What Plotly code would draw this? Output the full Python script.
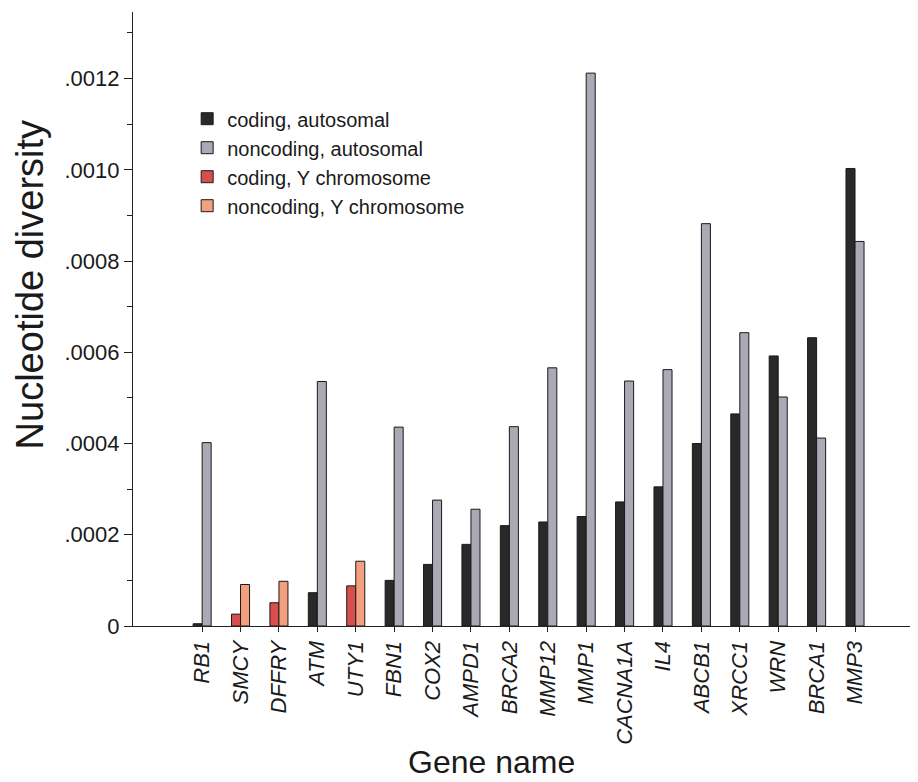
import plotly.graph_objects as go

genes = ["RB1", "SMCY", "DFFRY", "ATM", "UTY1", "FBN1", "COX2", "AMPD1", "BRCA2",
         "MMP12", "MMP1", "CACNA1A", "IL4", "ABCB1", "XRCC1", "WRN", "BRCA1", "MMP3"]

coding_autosomal = [0.000005, None, None, 0.000073, None, 0.000100, 0.000135, 0.000179, 0.000220,
                    0.000228, 0.000240, 0.000272, 0.000305, 0.000400, 0.000465, 0.000592, 0.000632, 0.001003]
noncoding_autosomal = [0.000402, None, None, 0.000536, None, 0.000436, 0.000276, 0.000256, 0.000437,
                       0.000566, 0.001212, 0.000537, 0.000562, 0.000882, 0.000643, 0.000502, 0.000412, 0.000843]
coding_y = [None, 0.000026, 0.000051, None, 0.000088, None, None, None, None,
            None, None, None, None, None, None, None, None, None]
noncoding_y = [None, 0.000091, 0.000098, None, 0.000142, None, None, None, None,
               None, None, None, None, None, None, None, None, None]

y_tickvals = [0, 0.0002, 0.0004, 0.0006, 0.0008, 0.0010, 0.0012]
y_ticktext = ["0", ".0002", ".0004", ".0006", ".0008", ".0010", ".0012"]

series = [
    ("coding, autosomal", coding_autosomal, "#272a28", -0.235),
    ("noncoding, autosomal", noncoding_autosomal, "#aba9b6", 0.0),
    ("coding, Y chromosome", coding_y, "#d84e4e", -0.235),
    ("noncoding, Y chromosome", noncoding_y, "#f3a07f", 0.0),
]

fig = go.Figure()
for i, (name, vals, color, off) in enumerate(series):
    fig.add_trace(go.Bar(
        x=genes, y=vals, name=name,
        marker=dict(color=color, line=dict(color="#1a1a1a", width=1)),
        width=0.235, offset=off,
    ))

font_family = "Liberation Sans, Arial, Helvetica, sans-serif"

# page body has an 8px margin, so the figure is sized 8px smaller than the window
fig.update_layout(
    width=910, height=774,
    barmode="overlay",
    plot_bgcolor="white", paper_bgcolor="white",
    margin=dict(l=125, r=0, t=4, b=156),
    font=dict(family=font_family, color="#1a1a1a"),
    showlegend=True,
    legend=dict(
        x=0.069, y=0.858, xanchor="left", yanchor="top",
        font=dict(size=20, family=font_family, color="#1a1a1a"),
        bgcolor="rgba(0,0,0,0)",
        traceorder="normal",
        itemwidth=30,
    ),
    xaxis=dict(
        type="category",
        range=[-1.8, 18.64],
        showline=True, linecolor="#222", linewidth=1.3,
        ticks="outside", ticklen=5, tickcolor="#222", tickwidth=1.2,
        tickangle=-90,
        tickfont=dict(size=22, family=font_family, style="italic", color="#1a1a1a"),
        ticklabelstandoff=0,
        showgrid=False, zeroline=False,
    ),
    yaxis=dict(
        range=[0, 0.001346],
        showline=True, linecolor="#222", linewidth=1.3,
        tickmode="array", tickvals=y_tickvals, ticktext=y_ticktext,
        ticks="outside", ticklen=8, tickcolor="#222", tickwidth=1.2,
        tickfont=dict(size=22, family=font_family, color="#1a1a1a"),
        minor=dict(dtick=0.0001, tick0=0, ticks="outside", ticklen=5, tickcolor="#222", showgrid=False),
        showgrid=False, zeroline=False,
    ),
    annotations=[
        dict(text="Nucleotide diversity", textangle=-90, xref="paper", yref="paper",
             x=-0.131, y=0.555, xanchor="center", yanchor="middle", showarrow=False,
             font=dict(size=38, family=font_family, color="#1a1a1a")),
        dict(text="Gene name", xref="paper", yref="paper",
             x=0.457, y=-0.222, xanchor="center", yanchor="middle", showarrow=False,
             font=dict(size=32, family=font_family, color="#1a1a1a")),
    ],
)

fig.write_html("out.html")
